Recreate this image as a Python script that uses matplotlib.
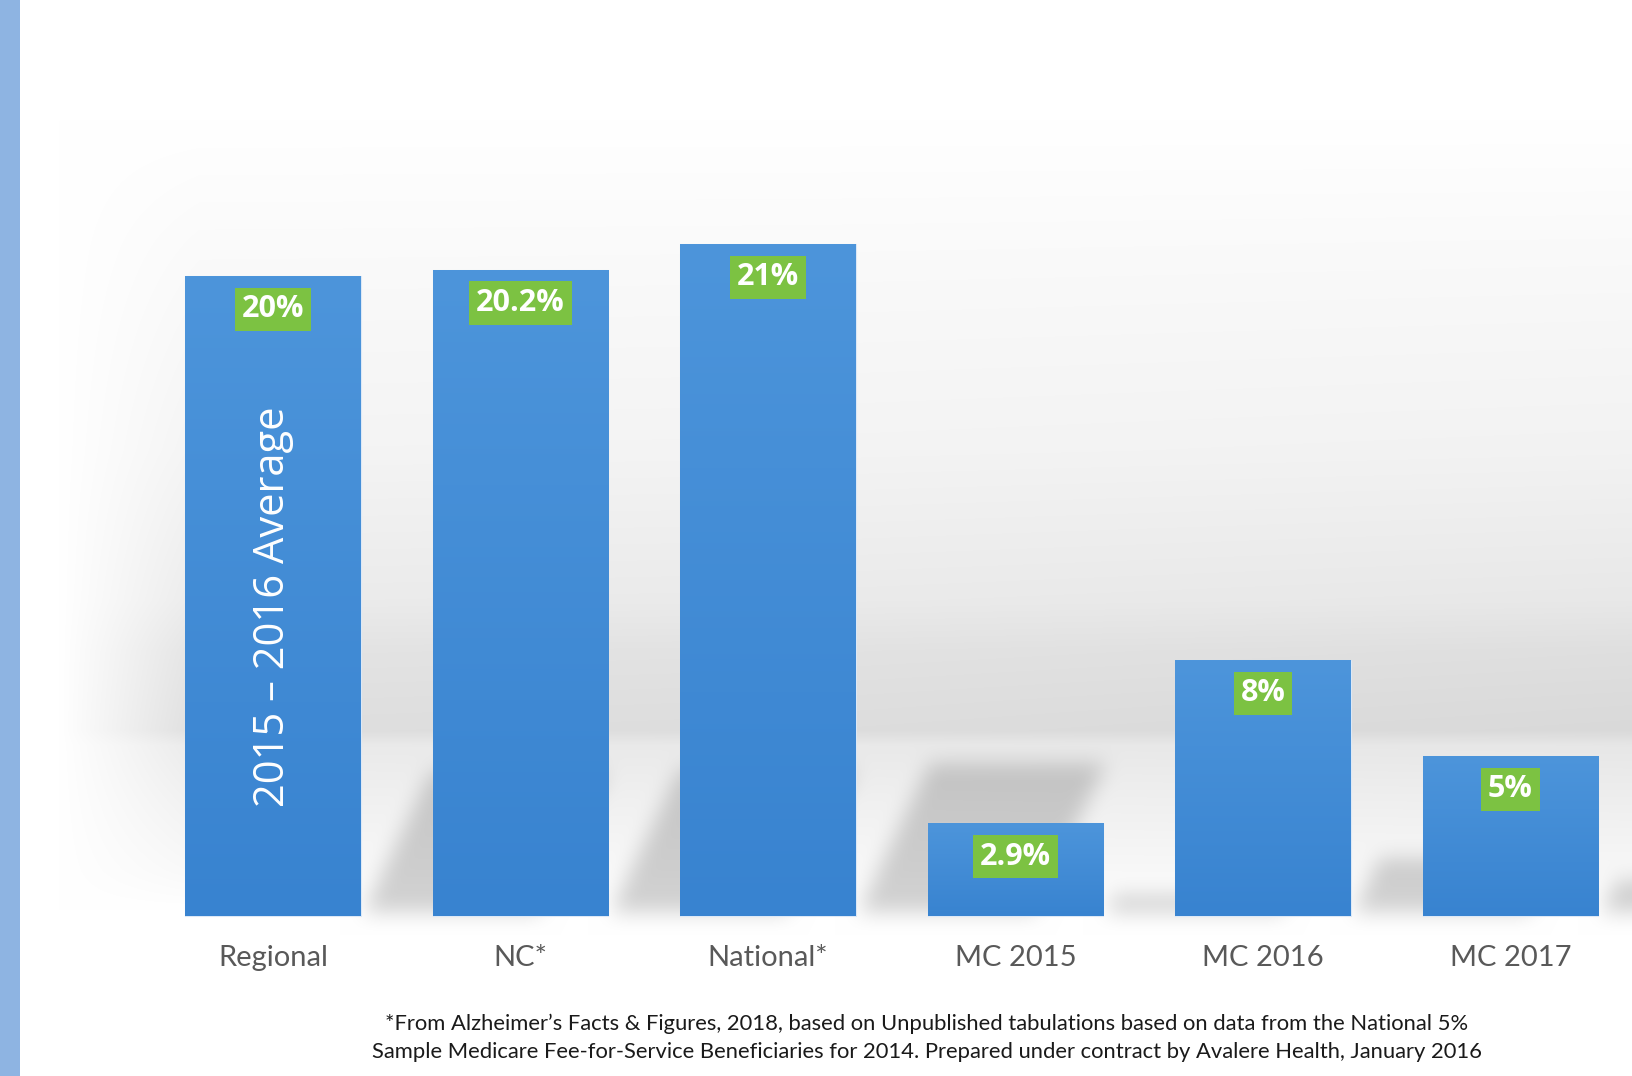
import numpy as np
import matplotlib
matplotlib.use("Agg")
import matplotlib.pyplot as plt
from matplotlib.colors import to_rgb

# Data
categories = ["Regional", "NC*", "National*", "MC 2015", "MC 2016", "MC 2017"]
values = [20, 20.2, 21, 2.9, 8, 5]
value_labels = ["20%", "20.2%", "21%", "2.9%", "8%", "5%"]
bar_note = "2015 \u2013 2016 Average"
footnote = [
    "*From Alzheimer\u2019s Facts & Figures, 2018, based on Unpublished tabulations based on data from the National 5%",
    "Sample Medicare Fee-for-Service Beneficiaries for 2014. Prepared under contract by Avalere Health, January 2016",
]

W, H = 1633, 1076
fig = plt.figure(figsize=(W / 100, H / 100), dpi=100)
ax = fig.add_axes([0, 0, 1, 1])
ax.axis("off")

x = np.arange(len(values))
bar_w = 0.71
xlim = (-1.103, 5.495)
ylim = (-5.0, 28.625)


def px(xd):
    return (xd - xlim[0]) / (xlim[1] - xlim[0]) * W


def py(yd):
    return (ylim[1] - yd) / (ylim[1] - ylim[0]) * H


def blur_axis(a, r, axis):
    a = np.moveaxis(a, axis, 0)
    p = np.pad(a, ((r + 1, r), (0, 0)), mode="edge")
    c = np.cumsum(p, axis=0)
    out = (c[2 * r + 1:] - c[:-2 * r - 1]) / (2 * r + 1)
    return np.moveaxis(out, 0, axis)


def blur(a, r, passes=2):
    for _ in range(passes):
        a = blur_axis(a, r, 0)
        a = blur_axis(a, r, 1)
    return a


# grey backdrop band behind the bars
rows = np.arange(H)
cols = np.arange(W)
a = np.interp(rows, [120, 240, 450, 600, 650, 700, 730, 745, 800, 870, 910],
              [0, 0.02, 0.05, 0.09, 0.125, 0.14, 0.148, 0.095, 0.065, 0.03, 0])
b = np.clip((cols - 59) / 140, 0, 1) * np.interp(cols, [0, 800, W], [0.85, 0.9, 1.0])
shade = a[:, None] * b[None, :]

# slanted shadows thrown up and to the right of each bar
yy = rows[:, None].astype(float)
xx = cols[None, :].astype(float)
base = py(0)
wpx = px(bar_w) - px(0)
mask = np.zeros((H, W))
for i, v in enumerate(values):
    r = px(i + bar_w / 2)
    L = 0.228 * (base - py(v))
    off = 0.48 * (base - yy)
    inside = (yy >= base - L) & (yy <= base - 4) & (xx >= r + off) & (xx <= r + wpx + off)
    mask[inside] = 1.0
mask = blur(mask, 11)

grey = (1 - shade) * (1 - 0.17 * mask)
bg = np.repeat(grey[:, :, None], 3, axis=2)
bg[:, :20, :] = to_rgb("#8eb4e3")
ax.imshow(bg, extent=(xlim[0], xlim[1], ylim[0], ylim[1]), origin="upper",
          aspect="auto", zorder=0, interpolation="bilinear")

# bars with a soft top-to-bottom gradient
bars = ax.bar(x, values, width=bar_w, color="#4189d5", edgecolor="#dce8f6",
              linewidth=0.8, zorder=2)
top_c = np.array(to_rgb("#4d95db"))
bot_c = np.array(to_rgb("#3883d0"))
t = np.linspace(0, 1, 256)[:, None, None]
grad = top_c * (1 - t) + bot_c * t
for i, (bar, v) in enumerate(zip(bars, values)):
    im = ax.imshow(grad, extent=(i - bar_w / 2, i + bar_w / 2, 0, v), origin="upper",
                   aspect="auto", zorder=2.1)
    im.set_clip_path(bar)

ax.text(0, values[0] * 0.483, bar_note, rotation=90, ha="center", va="center",
        color="white", fontsize=30, family="Open Sans", zorder=3)

for i, (v, lbl) in enumerate(zip(values, value_labels)):
    ax.annotate(lbl, xy=(i, v), xytext=(0, -24), textcoords="offset points",
                ha="center", va="center", fontsize=22, fontweight="bold",
                family="Open Sans", color="white", zorder=4,
                bbox=dict(boxstyle="square,pad=0.22", fc="#7cc242", ec="none"))

for i, cat in enumerate(categories):
    ax.text(i, -1.3, cat, ha="center", va="center", fontsize=21,
            color="#595959", family="Lato")

fig.text(0.5677, 0.0483, footnote[0], ha="center", va="center", fontsize=15.8,
         color="#1a1a1a", family="Lato")
fig.text(0.5677, 0.0223, footnote[1], ha="center", va="center", fontsize=15.8,
         color="#1a1a1a", family="Lato")

ax.set_xlim(xlim)
ax.set_ylim(ylim)
fig.savefig("out.png", dpi=100)
